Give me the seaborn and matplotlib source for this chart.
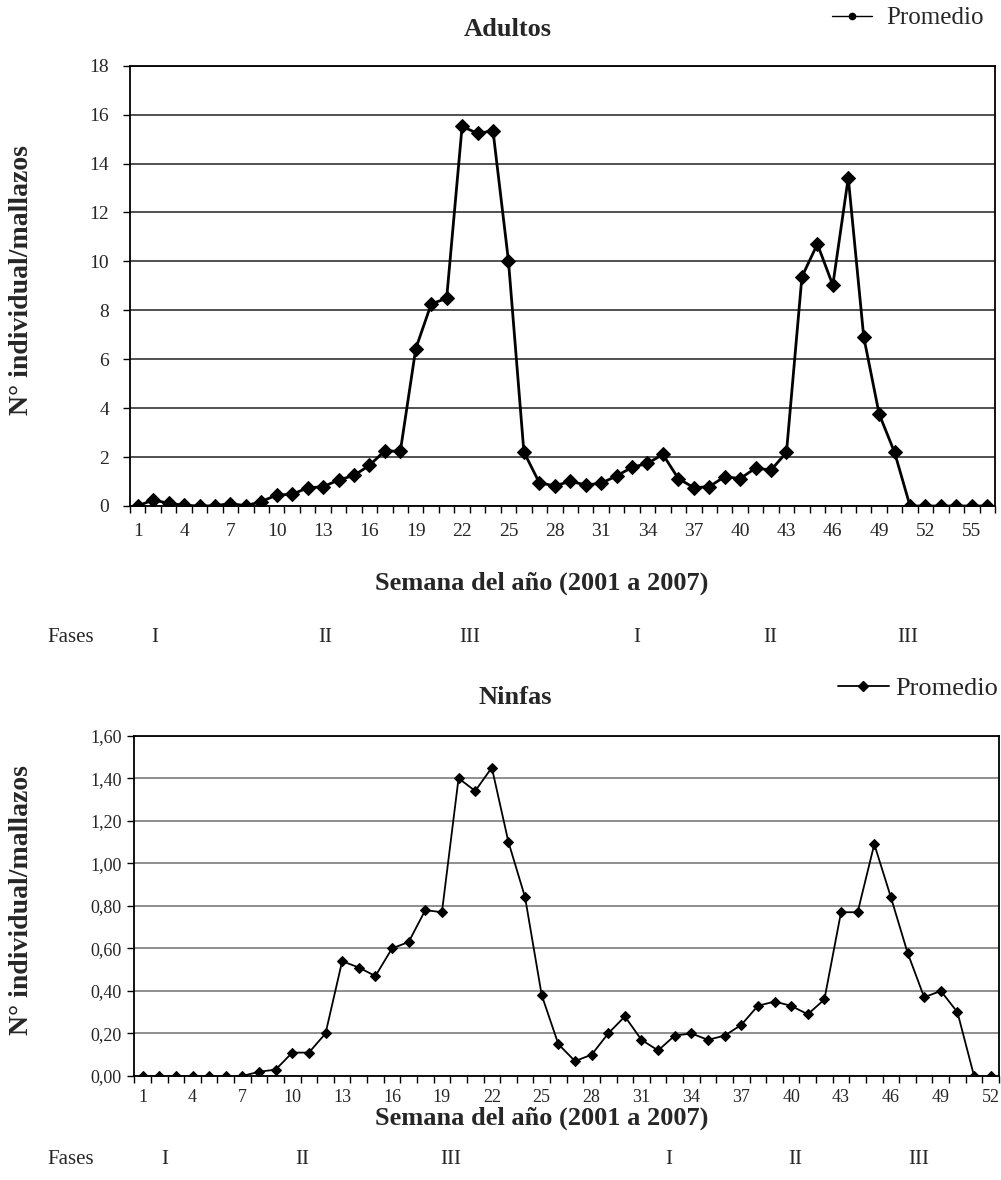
"""Adultos / Ninfas weekly averages, 2001-2007"""

import matplotlib.pyplot as plt
import matplotlib.ticker as mticker
import pandas as pd
import seaborn as sns
from matplotlib.lines import Line2D

# weekly averages
adultos_semana = list(range(1, 57))
adultos_promedio = [
    0.00, 0.25, 0.11, 0.03, 0.00, 0.01, 0.10, 0.01, 0.18, 0.45,
    0.48, 0.74, 0.79, 1.06, 1.25, 1.66, 2.26, 2.23, 6.43, 8.26,
    8.49, 15.52, 15.23, 15.34, 10.03, 2.21, 0.95, 0.82, 1.01, 0.86,
    0.93, 1.23, 1.58, 1.74, 2.11, 1.12, 0.75, 0.79, 1.20, 1.12,
    1.55, 1.47, 2.19, 9.37, 10.71, 9.03, 13.42, 6.92, 3.76, 2.19,
    0.00, 0.00, 0.00, 0.00, 0.00, 0.00,
]
ninfas_semana = list(range(1, 53))
ninfas_promedio = [
    0.00, 0.00, 0.00, 0.00, 0.00, 0.00, 0.00, 0.02, 0.03, 0.11,
    0.11, 0.20, 0.54, 0.51, 0.47, 0.60, 0.63, 0.78, 0.77, 1.40,
    1.34, 1.45, 1.10, 0.84, 0.38, 0.15, 0.07, 0.10, 0.20, 0.28,
    0.17, 0.12, 0.19, 0.20, 0.17, 0.19, 0.24, 0.33, 0.35, 0.33,
    0.29, 0.36, 0.77, 0.77, 1.09, 0.84, 0.58, 0.37, 0.40, 0.30,
    0.00, 0.00,
]
adultos_yticks = [0, 2, 4, 6, 8, 10, 12, 14, 16, 18]
ninfas_yticks = [0.0, 0.2, 0.4, 0.6, 0.8, 1.0, 1.2, 1.4, 1.6]
fases = ["I", "II", "III", "I", "II", "III"]

adultos = pd.DataFrame({"semana": adultos_semana, "promedio": adultos_promedio})
ninfas = pd.DataFrame({"semana": ninfas_semana, "promedio": ninfas_promedio})

sns.set_style("ticks")
plt.rcParams["font.family"] = ["Liberation Serif", "DejaVu Serif"]

W, H = 1001, 1180
fig = plt.figure(figsize=(W / 100, H / 100), dpi=100)
ax1 = fig.add_axes([130 / W, 1 - 506 / H, 865 / W, 440.3 / H])
ax2 = fig.add_axes([134.3 / W, 1 - 1076 / H, 864.7 / W, 340.3 / H])


def style_axis(ax, df, ymax, yticks, grid_color, tick_size, xpad, ypad):
    ax.set_xlim(0.5, len(df) + 0.5)
    ax.set_ylim(0, ymax)
    ax.set_yticks(yticks)
    ax.set_xticks(df["semana"][::3])
    ax.set_xticks([s - 0.5 for s in df["semana"]] + [len(df) + 0.5], minor=True)
    ax.tick_params(axis="x", which="major", length=0, pad=xpad, labelsize=tick_size)
    ax.tick_params(axis="x", which="minor", length=5, width=1, color="black",
                   direction="out")
    ax.tick_params(axis="y", length=5, width=1, color="black", direction="out",
                   pad=ypad, labelsize=tick_size)
    ax.yaxis.grid(True, color=grid_color, linewidth=1.1)
    ax.set_axisbelow(True)
    for sp in ax.spines.values():
        sp.set_color("black")
        sp.set_linewidth(1.3)
    ax.set_xlabel("")
    ax.set_ylabel("N° individual/mallazos", fontsize=20, fontweight="bold")
    ax.yaxis.label.set_verticalalignment("center")


sns.lineplot(data=adultos, x="semana", y="promedio", ax=ax1, color="black",
             linewidth=2.0, marker="D", markersize=6.8, markeredgecolor="black")
style_axis(ax1, adultos, 18, adultos_yticks, "#202020", 14, 12, 10)
ax1.yaxis.set_label_coords(-0.125, 0.513)

sns.lineplot(data=ninfas, x="semana", y="promedio", ax=ax2, color="black",
             linewidth=1.3, marker="D", markersize=5.2, markeredgecolor="black")
style_axis(ax2, ninfas, 1.6, ninfas_yticks, "#707070", 13, 9, 4)
ax2.yaxis.set_major_formatter(
    mticker.FuncFormatter(lambda v, _: f"{v:.2f}".replace(".", ","))
)
ax2.yaxis.set_label_coords(-0.13, 0.517)

# titles and axis captions
fig.text(508 / W, 1 - 30 / H, "Adultos", ha="center", va="center",
         fontsize=19, fontweight="bold")
fig.text(515 / W, 1 - 697 / H, "Ninfas", ha="center", va="center",
         fontsize=19, fontweight="bold")
fig.text(542 / W, 1 - 583 / H, "Semana del año (2001 a 2007)", ha="center",
         va="center", fontsize=19, fontweight="bold")
fig.text(542 / W, 1 - 1118 / H, "Semana del año (2001 a 2007)", ha="center",
         va="center", fontsize=19, fontweight="bold")

# phase rows
for y, xs in [(638, [155, 325, 470, 637, 770, 908]),
              (1160, [165, 302, 451, 669, 795, 919])]:
    fig.text(71 / W, 1 - y / H, "Fases", ha="center", va="center", fontsize=15)
    for x, f in zip(xs, fases):
        fig.text(x / W, 1 - y / H, f, ha="center", va="center", fontsize=15)

# legends
top_handle = Line2D([], [], color="black", linewidth=1.0, marker="o",
                    markersize=4.5)
ax1.legend([top_handle], ["Promedio"], loc="center right",
           bbox_to_anchor=(984 / W, 1 - 18 / H), bbox_transform=fig.transFigure,
           frameon=False, fontsize=18, handlelength=1.6, handletextpad=0.6,
           borderpad=0, borderaxespad=0)
bottom_handle = Line2D([], [], color="black", linewidth=1.3, marker="D",
                       markersize=5.2)
ax2.legend([bottom_handle], ["Promedio"], loc="center right",
           bbox_to_anchor=(998 / W, 1 - 688 / H), bbox_transform=fig.transFigure,
           frameon=False, fontsize=19, handlelength=1.9, handletextpad=0.25,
           borderpad=0, borderaxespad=0)

fig.savefig("out.png", dpi=100)
